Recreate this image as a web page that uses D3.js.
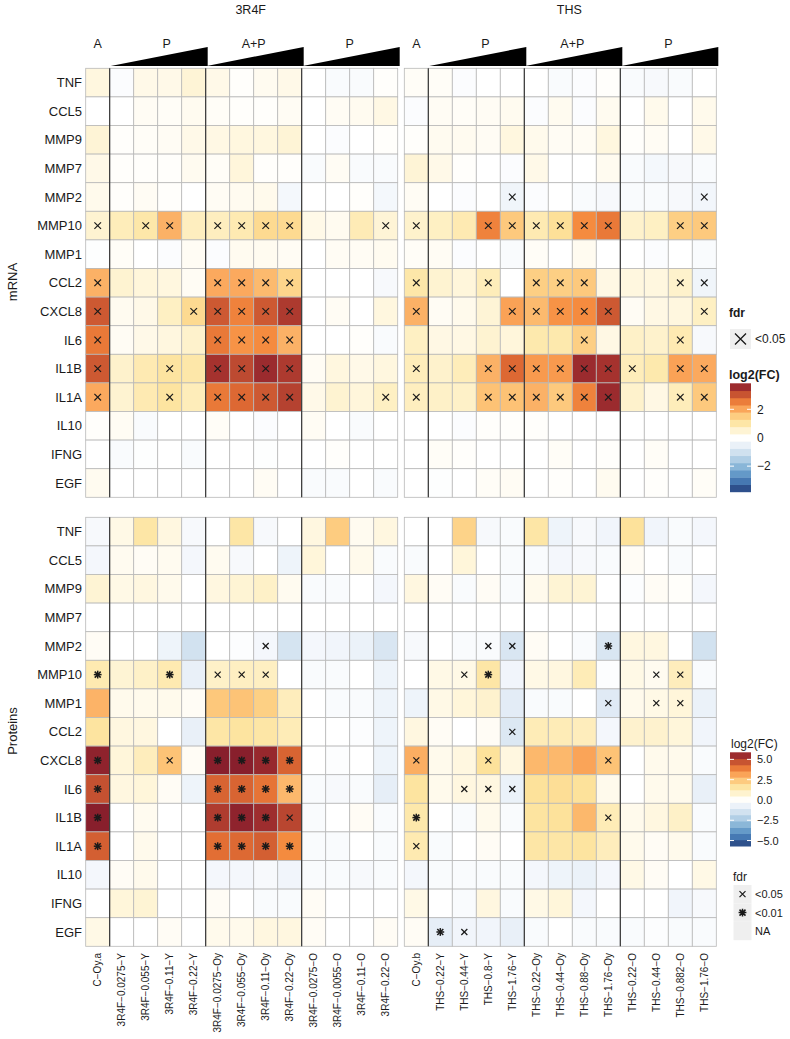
<!DOCTYPE html>
<html><head><meta charset="utf-8">
<script src="https://cdn.jsdelivr.net/npm/d3@7"></script>
<style>body{margin:0;background:#fff;} text{font-family:"Liberation Sans",Arial,Helvetica,sans-serif;fill:#1a1a1a;}</style>
</head><body><svg id="c" width="790" height="1039"></svg>
<script>
const genes = ["TNF","CCL5","MMP9","MMP7","MMP2","MMP10","MMP1","CCL2","CXCL8","IL6","IL1B","IL1A","IL10","IFNG","EGF"];
const cols3R4F = ["C\u2212Oy.a","3R4F\u22120.0275\u2212Y","3R4F\u22120.055\u2212Y","3R4F\u22120.11\u2212Y","3R4F\u22120.22\u2212Y","3R4F\u22120.0275\u2212Oy","3R4F\u22120.055\u2212Oy","3R4F\u22120.11\u2212Oy","3R4F\u22120.22\u2212Oy","3R4F\u22120.0275\u2212O","3R4F\u22120.0055\u2212O","3R4F\u22120.11\u2212O","3R4F\u22120.22\u2212O"];
const colsTHS = ["C\u2212Oy.b","THS\u22120.22\u2212Y","THS\u22120.44\u2212Y","THS\u22120.8\u2212Y","THS\u22121.76\u2212Y","THS\u22120.22\u2212Oy","THS\u22120.44\u2212Oy","THS\u22120.88\u2212Oy","THS\u22121.76\u2212Oy","THS\u22120.22\u2212O","THS\u22120.44\u2212O","THS\u22120.882\u2212O","THS\u22121.76\u2212O"];
const groupLabels = ["A","P","A+P","P"];
const groupStart = [0,1,5,9];
const groupEnd = [0,4,8,12];

// log2(FC) values, rows = genes
const mrna3R4F = [
 [0.4,-0.1,0.3,0.3,0.5,0.3,0.05,0.2,0.3,0.0,-0.15,-0.15,0.05],
 [0.0,0.0,0.15,0.1,0.2,0.1,0.05,0.05,0.15,0.0,0.15,0.2,0.35],
 [0.5,0.05,0.1,0.15,0.3,0.35,0.4,0.4,0.5,0.0,-0.1,0.0,0.05],
 [0.3,0.05,0.05,0.05,0.2,0.1,0.45,0.05,0.05,-0.15,0.15,-0.15,-0.15],
 [0.25,0.05,0.15,0.05,0.0,0.15,0.2,0.25,-0.25,0.0,0.0,0.05,-0.25],
 [0.55,0.8,1.0,1.9,0.75,0.75,0.9,1.3,1.3,0.3,0.2,0.85,0.5],
 [-0.05,0.1,0.0,-0.1,0.15,-0.1,0.2,0.2,0.15,0.0,0.15,0.15,0.2],
 [1.9,0.55,0.45,0.4,0.15,2.0,2.0,1.8,1.4,0.0,0.0,0.0,-0.2],
 [3.0,0.2,0.3,0.7,1.3,3.0,2.5,3.0,3.4,0.0,0.15,0.0,0.4],
 [2.6,0.15,0.3,0.4,0.6,2.6,2.3,2.4,1.9,0.0,0.0,0.05,-0.15],
 [3.0,0.6,0.9,1.1,1.0,3.5,3.2,3.6,3.4,0.15,0.4,0.3,0.4],
 [2.0,0.55,0.9,1.1,0.8,2.6,2.8,3.0,3.3,0.3,0.55,0.45,0.7],
 [0.05,0.15,-0.15,0.0,0.0,0.1,0.0,-0.1,0.0,0.15,0.0,-0.15,0.0],
 [0.0,-0.15,-0.05,0.0,-0.15,0.0,0.0,-0.05,0.0,0.0,0.05,0.0,0.0],
 [0.2,0.0,0.0,0.0,0.0,0.0,0.0,0.15,0.0,-0.15,-0.15,0.0,-0.15]
];
const mrnaTHS = [
 [0.1,0.1,-0.1,0.0,0.0,0.0,-0.15,-0.1,0.05,-0.15,-0.2,-0.15,0.0],
 [-0.1,0.15,0.1,0.15,0.2,-0.1,0.2,-0.1,0.2,0.0,0.25,0.0,0.25],
 [0.05,0.2,0.2,0.15,0.4,0.25,0.15,0.15,0.4,0.05,0.15,0.0,0.3],
 [0.5,0.3,0.05,0.0,-0.1,0.3,0.0,0.0,0.2,-0.15,-0.25,-0.2,-0.15],
 [0.15,0.0,-0.1,0.0,-0.35,-0.1,0.0,-0.15,-0.2,-0.15,-0.15,-0.2,-0.3],
 [0.6,0.7,0.9,2.5,1.6,0.9,1.2,2.4,2.6,0.6,0.7,1.5,1.6],
 [0.1,0.15,-0.1,0.0,-0.15,0.1,0.0,0.2,0.0,0.0,-0.1,0.0,-0.15],
 [1.0,0.55,0.45,0.8,0.0,1.5,1.5,1.6,0.35,0.4,0.4,0.6,-0.35],
 [1.9,0.15,0.25,0.5,2.1,1.8,2.3,2.4,3.0,0.15,0.35,0.4,0.7],
 [0.7,0.35,0.35,0.55,0.45,0.95,0.95,1.5,0.35,0.65,0.6,0.9,-0.2],
 [0.8,0.6,0.8,1.9,2.8,2.2,2.2,3.6,3.5,0.8,0.95,2.1,2.0],
 [0.75,0.65,0.65,1.7,1.7,1.9,1.6,2.5,3.6,0.6,0.35,0.8,1.6],
 [0.0,0.0,-0.1,0.05,0.05,0.05,0.0,0.0,0.0,0.0,0.0,0.0,0.0],
 [0.0,0.1,0.05,0.0,0.0,0.0,0.1,0.0,0.05,0.0,0.1,0.0,0.0],
 [0.0,-0.05,0.0,0.1,0.15,0.0,0.05,0.0,0.2,0.0,0.05,0.0,0.1]
];
const prot3R4F = [
 [-0.3,0.5,1.6,0.6,-0.3,0.0,1.6,-0.3,0.0,0.6,2.4,0.3,0.6],
 [-0.4,0.3,0.2,0.3,-0.4,0.3,-0.3,0.0,-0.6,0.7,0.0,0.4,-0.2],
 [0.8,0.5,0.6,0.4,0.0,0.6,0.8,1.0,0.3,-0.2,-0.2,0.0,-0.4],
 [0,0,0,0,0,0,0,0,0,0,0,0,0],
 [0.2,0.0,0.0,-0.6,-1.5,0.0,-0.1,-0.4,-1.4,-0.4,-0.5,-0.7,-1.3],
 [1.4,0.8,1.0,1.4,-0.8,1.0,1.1,1.1,0.0,-0.2,-0.2,0.0,-0.6],
 [2.9,0.4,0.4,0.4,0.2,2.5,2.6,2.3,1.2,0.0,-0.2,-0.2,-0.6],
 [1.7,0.6,0.6,0.0,-0.8,1.6,1.7,1.6,1.3,0.0,0.0,-0.1,-0.6],
 [5.7,0.7,1.2,2.6,0.2,5.8,5.8,5.6,4.4,0.0,-0.1,0.0,-0.6],
 [4.8,0.6,0.7,0.2,-0.6,4.4,4.4,4.1,2.8,-0.2,-0.3,-0.2,-0.9],
 [5.8,0.0,0.3,0.0,0.0,5.2,5.7,5.5,5.0,-0.2,0.0,0.2,-0.2],
 [4.5,0.0,0.4,0.0,0.0,4.2,4.3,4.5,3.7,-0.2,-0.2,0.0,-0.2],
 [-0.4,0.2,0.4,0.0,0.0,-0.4,-0.4,-0.3,-0.5,-0.2,-0.2,-0.3,-0.2],
 [0.0,0.7,0.8,0.0,0.0,0.2,0.0,-0.2,-0.2,0.2,0.0,0.0,0.0],
 [0.5,0.0,0.0,0.2,0.0,0.4,0.4,0.6,0.6,0.2,0.0,0.0,0.2]
];
const protTHS = [
 [0.0,0.0,2.2,-0.3,-0.2,1.6,-0.6,-0.3,-0.5,1.8,-0.5,-0.2,-0.4],
 [-0.2,0.0,0.7,0.0,-0.2,-0.2,-0.4,-0.3,-0.2,0.2,0.0,-0.2,0.0],
 [0.6,0.2,-0.2,0.2,-0.2,0.4,0.8,0.8,0.0,-0.1,0.2,0.1,-0.4],
 [0,0,0,0,0,0,0,0,0,0,0,0,0],
 [-0.3,0.0,-0.2,-0.2,-1.3,0.2,0.0,-0.2,-1.3,0.6,0.6,0.0,-1.5],
 [0.0,0.5,0.5,1.6,-0.5,0.5,0.6,1.3,-0.1,0.5,0.3,1.2,-0.2],
 [-0.6,0.5,0.7,0.9,-1.0,-0.2,-0.2,0.0,-1.1,0.4,0.5,0.7,-0.7],
 [0.6,0.2,0.0,0.2,-1.2,1.3,1.3,1.2,-0.4,0.9,0.9,0.7,-0.5],
 [3.0,0.4,0.6,1.8,0.6,2.8,2.8,3.2,2.6,0.0,0.4,0.4,-0.2],
 [1.7,0.4,0.6,0.6,-0.7,1.8,1.9,1.8,0.4,0.0,0.4,0.4,-0.8],
 [1.5,0.0,-0.2,0.4,-0.2,1.7,1.8,2.8,1.3,0.4,0.6,1.0,-0.2],
 [1.4,-0.2,0.0,0.2,0.0,1.6,1.6,1.7,1.2,0.4,0.2,0.4,-0.2],
 [-0.4,-0.2,-0.2,-0.2,-0.2,-0.4,-0.6,-0.7,-0.4,0.5,0.2,0.0,0.5],
 [0.5,0.0,-0.2,0.6,-0.2,0.5,0.7,-0.4,0.0,0.0,0.0,-0.5,-0.3],
 [0.2,-0.9,-0.5,-0.5,-0.8,-0.2,0.0,-0.2,-0.2,-0.2,-0.1,-0.2,-0.2]
];
// fdr marks: x = <0.05, * = <0.01, . = none
const sigMrna3R4F = [".............",".............",".............",".............",".............","x.xx.xxxx...x",".............","x....xxxx....","x...xxxxx....","x....xxxx....","x..x.xxxx....","x..x.xxxx...x",".............",".............","............."];
const sigMrnaTHS = [".............",".............",".............",".............","....x.......x","x..xxxxxx..xx",".............","x..x.xxx...xx","x...xxxxx...x",".......x...x.","x..xxxxxxx.xx","x..xxxxxx..xx",".............",".............","............."];
const sigProt3R4F = [".............",".............",".............",".............",".......x.....","*..*.xxx.....",".............",".............","*..x.****....","*....****....","*....***x....","*....****....",".............",".............","............."];
const sigProtTHS = [".............",".............",".............",".............","...xx...*....","..x*......xx.","........x.xx.","....x........","x..x....x....","..xxx........","*.......x....","x............",".............",".............",".*x.........."];

const mrnaTicks = [-2,0,2];
const protTicks = [-5.0,-2.5,0.0,2.5,5.0];
const mrnaLim = [-3.8,3.83];
const protLim = [-5.67,5.87];

const svg = d3.select("#c");
const tStops = [-1,-0.88,-0.75,-0.6,-0.45,-0.3,-0.18,-0.08,0,0.08,0.18,0.3,0.42,0.52,0.62,0.72,0.82,0.92,1];
const tCols = ["#233a72","#3762a0","#4f86bd","#74a8d0","#a3c6e1","#c8dced","#e1ebf5","#f2f6fb","#ffffff","#fff9e8","#fef0c4","#fde39c","#fdc97c","#fbaa5f","#f68d40","#e06b33","#c24f31","#a3302e","#811a2c"];
const pal = d3.scaleLinear().domain(tStops).range(tCols).clamp(true);
function colorFor(v, lim){ return pal(v >= 0 ? v/lim[1] : v/Math.abs(lim[0])); }

const xL = d3.scaleBand().domain(cols3R4F).range([85.7, 397.7]);
const xR = d3.scaleBand().domain(colsTHS).range([404.3, 716.3]);
const yM = d3.scaleBand().domain(genes).range([68.3, 497.3]);
const yP = d3.scaleBand().domain(genes).range([517.3, 946.3]);

function drawPanel(x, y, cols, vals, sig, lim, markSize){
  const g = svg.append("g");
  const cells = [];
  genes.forEach((gn,i)=>cols.forEach((c,j)=>cells.push({g:gn,c:c,v:vals[i][j],s:sig[i][j]})));
  g.selectAll("rect.cell").data(cells).enter().append("rect")
    .attr("x",d=>x(d.c)).attr("y",d=>y(d.g))
    .attr("width",x.bandwidth()).attr("height",y.bandwidth())
    .attr("fill",d=>colorFor(d.v,lim)).attr("stroke","#b8b8b8").attr("stroke-width",0.8);
  // separators
  [1,5,9].forEach(k=>{
    const xx = x(cols[k]);
    g.append("line").attr("x1",xx).attr("x2",xx).attr("y1",y.range()[0]).attr("y2",y.range()[1])
      .attr("stroke","#2b2b2b").attr("stroke-width",1.1);
  });
  // marks
  const m = g.selectAll("g.mark").data(cells.filter(d=>d.s!==".")).enter().append("g")
    .attr("transform",d=>`translate(${x(d.c)+x.bandwidth()/2},${y(d.g)+y.bandwidth()/2})`);
  m.each(function(d){
    const s = d3.select(this); const h = markSize;
    s.append("line").attr("x1",-h).attr("y1",-h).attr("x2",h).attr("y2",h);
    s.append("line").attr("x1",-h).attr("y1",h).attr("x2",h).attr("y2",-h);
    if(d.s==="*"){
      const r = h*1.3;
      s.append("line").attr("x1",-r).attr("y1",0).attr("x2",r).attr("y2",0);
      s.append("line").attr("x1",0).attr("y1",-r).attr("x2",0).attr("y2",r);
    }
  });
  m.selectAll("line").attr("stroke","#1a1a1a").attr("stroke-width",d=>d.s==="*"?1.5:1.2);
}
drawPanel(xL,yM,cols3R4F,mrna3R4F,sigMrna3R4F,[-3.83,3.83],3.3);
drawPanel(xR,yM,colsTHS,mrnaTHS,sigMrnaTHS,[-3.83,3.83],3.3);
drawPanel(xL,yP,cols3R4F,prot3R4F,sigProt3R4F,[-5.9,5.9],3.0);
drawPanel(xR,yP,colsTHS,protTHS,sigProtTHS,[-5.9,5.9],3.0);

// row labels
[yM,yP].forEach(y=>{
  svg.append("g").selectAll("text").data(genes).enter().append("text")
    .attr("x",82).attr("y",d=>y(d)+y.bandwidth()/2).attr("dy","0.36em")
    .attr("text-anchor","end").attr("font-size",13).text(d=>d);
});
// column labels
[[xL,cols3R4F],[xR,colsTHS]].forEach(([x,cols])=>{
  svg.append("g").selectAll("text").data(cols).enter().append("text")
    .attr("transform",d=>`translate(${x(d)+x.bandwidth()/2},953) rotate(-90)`)
    .attr("dy","0.35em").attr("text-anchor","end").attr("font-size",10).text(d=>d);
});
// section labels
svg.append("text").attr("transform","translate(17,282) rotate(-90)").attr("text-anchor","middle").attr("font-size",13).text("mRNA");
svg.append("text").attr("transform","translate(17,731) rotate(-90)").attr("text-anchor","middle").attr("font-size",13).text("Proteins");

// header
[[xL,cols3R4F,"3R4F"],[xR,colsTHS,"THS"]].forEach(([x,cols,title])=>{
  const r = x.range();
  svg.append("text").attr("x",(r[0]+r[1])/2+9).attr("y",14).attr("text-anchor","middle").attr("font-size",12.5).text(title);
  groupLabels.forEach((lab,i)=>{
    const x1 = x(cols[groupStart[i]]), x2 = x(cols[groupEnd[i]])+x.bandwidth();
    const off = i===1 ? 9 : 0;
    svg.append("text").attr("x",(x1+x2)/2+off).attr("y",47.5).attr("text-anchor","middle").attr("font-size",12.5).text(lab);
    if(i>0){
      svg.append("path").attr("d",`M${x1+1},66 L${x2+2},47 L${x2+2},66 Z`).attr("fill","#000");
    }
  });
});

// legends
function colorbar(y0,y1,lim,ticks,fmt,fs){
  const ly = d3.scaleLinear().domain(lim).range([y1,y0]);
  const n = 15, step = (lim[1]-lim[0])/n;
  const bins = d3.range(n).map(i=>lim[0]+step*(i+0.5));
  const bx = 730, bw = 21;
  svg.append("g").selectAll("rect").data(bins).enter().append("rect")
    .attr("x",bx).attr("width",bw).attr("y",d=>ly(d+step/2)).attr("height",ly(lim[0])-ly(lim[0]+step)+0.5)
    .attr("fill",d=>colorFor(d,lim));
  const tg = svg.append("g");
  ticks.forEach(t=>{
    tg.append("line").attr("x1",bx).attr("x2",bx+4).attr("y1",ly(t)).attr("y2",ly(t)).attr("stroke","#fff").attr("stroke-width",1);
    tg.append("line").attr("x1",bx+bw-4).attr("x2",bx+bw).attr("y1",ly(t)).attr("y2",ly(t)).attr("stroke","#fff").attr("stroke-width",1);
    tg.append("text").attr("x",bx+bw+6).attr("y",ly(t)).attr("dy","0.36em").attr("font-size",fs).text(fmt(t));
  });
}
// mRNA legend
svg.append("text").attr("x",729).attr("y",317).attr("font-size",12).attr("font-weight","bold").text("fdr");
svg.append("rect").attr("x",730).attr("y",329).attr("width",21).attr("height",20).attr("fill","#efefef");
svg.append("path").attr("d","M735,333.5 L746,344.5 M735,344.5 L746,333.5").attr("stroke","#1a1a1a").attr("stroke-width",1.3);
svg.append("text").attr("x",755).attr("y",339).attr("dy","0.36em").attr("font-size",12).text("<0.05");
svg.append("text").attr("x",729).attr("y",379).attr("font-size",12.5).attr("font-weight","bold").text("log2(FC)");
colorbar(383.3,491.7,mrnaLim,mrnaTicks,d=>d3.format("")(d).replace("-","\u2212"),12);

// protein legend
svg.append("text").attr("x",731).attr("y",748).attr("font-size",12).text("log2(FC)");
colorbar(752.3,846,protLim,protTicks,d=>d3.format(".1f")(d).replace("-","\u2212"),11);
svg.append("text").attr("x",733).attr("y",881).attr("font-size",12).text("fdr");
const fk = [{s:"x",l:"<0.05"},{s:"*",l:"<0.01"},{s:"na",l:"NA"}];
fk.forEach((k,i)=>{
  const y0 = 885 + i*18.4;
  svg.append("rect").attr("x",733.5).attr("y",y0).attr("width",18).attr("height",18.4).attr("fill","#efefef");
  const cx = 742.5, cy = y0+9.2, h=3;
  if(k.s!=="na"){
    svg.append("path").attr("d",`M${cx-h},${cy-h} L${cx+h},${cy+h} M${cx-h},${cy+h} L${cx+h},${cy-h}`+(k.s==="*"?` M${cx-h*1.3},${cy} L${cx+h*1.3},${cy} M${cx},${cy-h*1.3} L${cx},${cy+h*1.3}`:""))
      .attr("stroke","#1a1a1a").attr("stroke-width",k.s==="*"?1.5:1.2);
  }
  svg.append("text").attr("x",755).attr("y",cy).attr("dy","0.36em").attr("font-size",11).text(k.l);
});
</script></body></html>
